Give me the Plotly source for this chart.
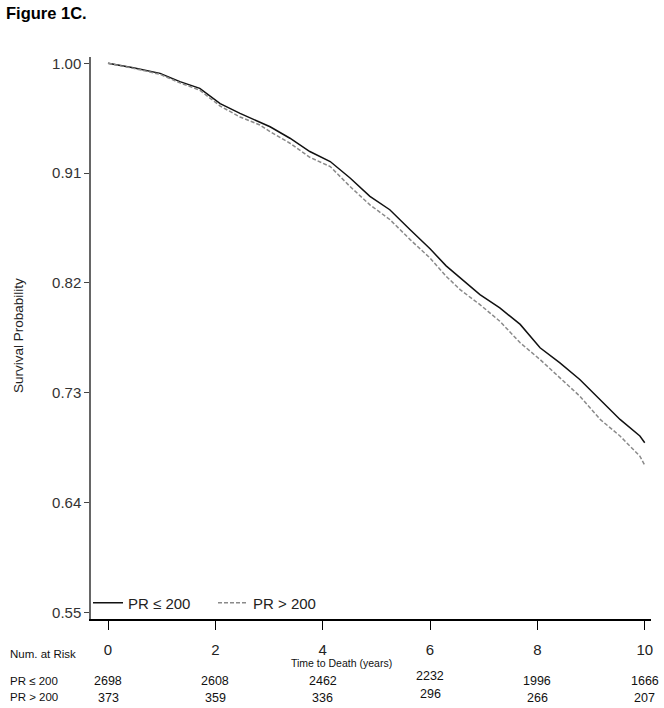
import plotly.graph_objects as go

# ---- data ----
time_years = [0, 0.47, 0.97, 1.34, 1.71, 2.09, 2.46, 2.83, 3.02, 3.39, 3.76, 4.14, 4.51, 4.88,
              5.25, 5.63, 6.0, 6.3, 6.56, 6.93, 7.30, 7.68, 8.05, 8.42, 8.79, 9.17, 9.54, 9.91, 10.0]
surv_le200 = [1.000, 0.9964, 0.9918, 0.985, 0.9795, 0.967, 0.959, 0.952, 0.948, 0.9386, 0.9277,
              0.9195, 0.906, 0.891, 0.880, 0.8636, 0.848, 0.834, 0.824, 0.8104, 0.7995, 0.786,
              0.7668, 0.7545, 0.7408, 0.7245, 0.7081, 0.6945, 0.689]
surv_gt200 = [1.000, 0.996, 0.991, 0.984, 0.978, 0.965, 0.956, 0.9495, 0.944, 0.9345, 0.923,
              0.9154, 0.899, 0.884, 0.872, 0.8555, 0.8404, 0.8255, 0.8145, 0.8022, 0.7886, 0.7709,
              0.7572, 0.7422, 0.7272, 0.7081, 0.6945, 0.678, 0.6705]

risk_times = [0, 2, 4, 6, 8, 10]
risk_le200 = [2698, 2608, 2462, 2232, 1996, 1666]
risk_gt200 = [373, 359, 336, 296, 266, 207]

y_ticks = [0.55, 0.64, 0.73, 0.82, 0.91, 1.00]
x_ticks = [0, 2, 4, 6, 8, 10]

label_le = "PR ≤ 200"
label_gt = "PR > 200"

REG = "Liberation Sans, Arial, sans-serif"

fig = go.Figure()
fig.add_trace(go.Scatter(x=time_years, y=surv_le200, mode="lines", name=label_le,
                         line=dict(color="#111111", width=1.5)))
fig.add_trace(go.Scatter(x=time_years, y=surv_gt200, mode="lines", name=label_gt,
                         line=dict(color="#8a8a8a", width=1.5, dash="4px,2px")))

# plot area in pixels: x 91..651, y 57..619
L, R, T, B = 91, 651, 57, 619
W, H = R - L, B - T

def px(x):
    return (x - L) / W

def py(y):
    return (B - y) / H

ann = []
ann.append(dict(text="<b>Figure 1C.</b>", x=px(4), y=py(13), xref="paper", yref="paper",
                xanchor="left", yanchor="middle", showarrow=False,
                font=dict(family=REG, size=16.5, color="#000")))
ann.append(dict(text="Survival Probability", x=px(18), y=py(336), xref="paper", yref="paper",
                textangle=-90, xanchor="center", yanchor="middle", showarrow=False,
                font=dict(family=REG, size=13.5, color="#222")))
ann.append(dict(text="Num. at Risk", x=px(8), y=py(654), xref="paper", yref="paper",
                xanchor="left", yanchor="middle", showarrow=False,
                font=dict(family=REG, size=11.5, color="#111")))
ann.append(dict(text="Time to Death (years)", x=px(341), y=py(663), xref="paper", yref="paper",
                xanchor="center", yanchor="middle", showarrow=False,
                font=dict(family=REG, size=10.5, color="#111")))
ann.append(dict(text=label_le, x=px(8), y=py(681), xref="paper", yref="paper",
                xanchor="left", yanchor="middle", showarrow=False,
                font=dict(family=REG, size=11.5, color="#111")))
ann.append(dict(text=label_gt, x=px(8), y=py(697), xref="paper", yref="paper",
                xanchor="left", yanchor="middle", showarrow=False,
                font=dict(family=REG, size=11.5, color="#111")))
for t, a, b in zip(risk_times, risk_le200, risk_gt200):
    ya = 676 if t == 6 else 681
    yb = 694 if t == 6 else 698
    ann.append(dict(text=str(a), x=t, y=py(ya), xref="x", yref="paper",
                    xanchor="center", yanchor="middle", showarrow=False,
                    font=dict(family=REG, size=12.5, color="#111")))
    ann.append(dict(text=str(b), x=t, y=py(yb), xref="x", yref="paper",
                    xanchor="center", yanchor="middle", showarrow=False,
                    font=dict(family=REG, size=12.5, color="#111")))

fig.update_layout(
    width=664, height=708,
    margin=dict(l=L, r=664 - R, t=T, b=708 - B, pad=0),
    paper_bgcolor="white", plot_bgcolor="white",
    showlegend=True,
    legend=dict(orientation="h", x=px(88), y=py(603), xanchor="left", yanchor="middle",
                bgcolor="rgba(0,0,0,0)", font=dict(family=REG, size=15, color="#222"),
                entrywidth=80, entrywidthmode="pixels", tracegroupgap=0),
    annotations=ann,
    xaxis=dict(range=[-0.317, 10.117], tickvals=x_ticks, ticktext=[str(v) for v in x_ticks],
               showgrid=False, zeroline=False, showline=True, linecolor="#000", linewidth=1.5,
               ticks="outside", ticklen=9, tickwidth=1.3, tickcolor="#000",
               ticklabelstandoff=7,
               tickfont=dict(family=REG, size=15, color="#222")),
    yaxis=dict(range=[0.5445, 1.0052], tickvals=y_ticks, ticktext=[f"{v:.2f}" for v in y_ticks],
               showgrid=False, zeroline=False, showline=True, linecolor="#666", linewidth=1.5,
               ticks="outside", ticklen=5, tickwidth=1.2, tickcolor="#444",
               tickfont=dict(family=REG, size=15, color="#333")),
)

fig.write_html("out.html", config={"displayModeBar": False},
               post_script="document.body.style.margin='0';document.body.style.overflow='hidden';")
